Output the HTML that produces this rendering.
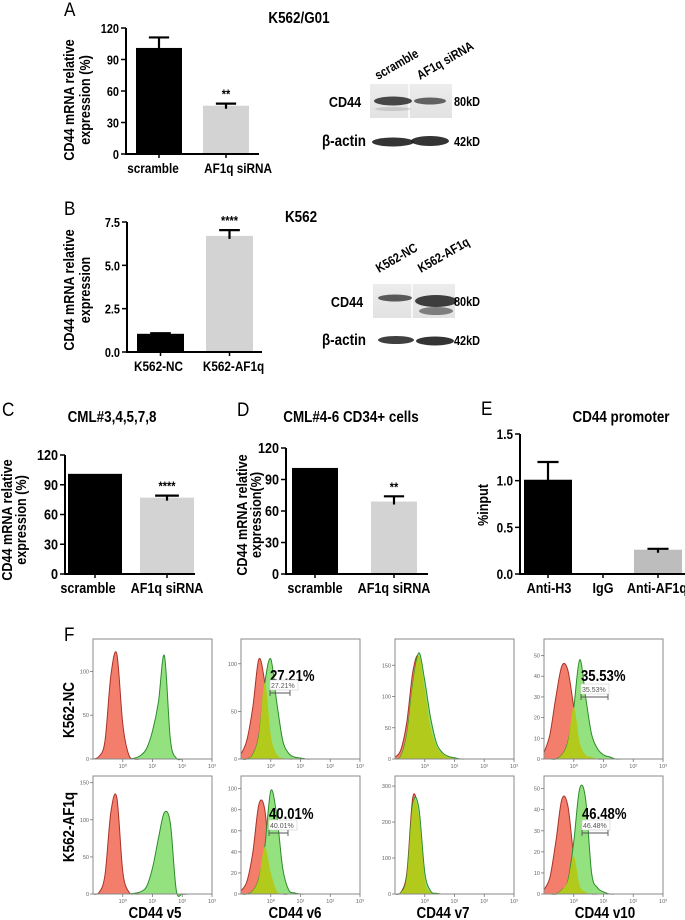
<!DOCTYPE html>
<html><head><meta charset="utf-8">
<style>
html,body{margin:0;padding:0;background:#fff;}
svg{display:block;font-family:"Liberation Sans",Arial,sans-serif;}
</style></head>
<body>
<svg id="fig" width="685" height="920" viewBox="0 0 685 920" xmlns="http://www.w3.org/2000/svg">
<defs>
<linearGradient id="blotbg" x1="0" x2="0" y1="0" y2="1">
<stop offset="0" stop-color="#ececec"/><stop offset="1" stop-color="#e2e2e2"/></linearGradient>
</defs>
<g id="root"></g>
</svg>
<script>
// ---------- bar chart data ----------
const aCats=["scramble","AF1q siRNA"];
const aVals=[101,46];
const aErrs=[10,2];
const aTicks=[0,30,60,90,120];
const bCats=["K562-NC","K562-AF1q"];
const bVals=[1.05,6.7];
const bErrs=[0.03,0.33];
const bTicks=[0,2.5,5,7.5];
const bTickLabels=["0.0","2.5","5.0","7.5"];
const cCats=["scramble","AF1q siRNA"];
const cVals=[101,77];
const cErrs=[0,2];
const cTicks=[0,30,60,90,120];
const dCats=["scramble","AF1q siRNA"];
const dVals=[101,69];
const dErrs=[0,5];
const dTicks=[0,30,60,90,120];
const eCats=["Anti-H3","IgG","Anti-AF1q"];
const eVals=[1.01,0,0.26];
const eErrs=[0.19,0,0.01];
const eTicks=[0,0.5,1,1.5];
const eTickLabels=["0.0","0.5","1.0","1.5"];
// ---------- flow histogram data (log10 bins from -1 to 3 step 0.2) ----------
const histBins=[-1,-0.8,-0.6,-0.4,-0.2,0,0.2,0.4,0.6,0.8,1,1.2,1.4,1.6,1.8,2,2.2,2.4,2.6,2.8,3];
const v5NCred=[0,3,20,95,120,40,5,0,0,0,0,0,0,0,0,0,0,0,0,0,0];
const v5NCgreen=[0,0,0,0,0,0,0,1,4,12,32,65,118,22,1,0,0,0,0,0,0];
const v5AFred=[0,2,25,110,130,30,3,0,0,0,0,0,0,0,0,0,0,0,0,0,0];
const v5AFgreen=[0,0,0,0,0,0,0,1,3,10,35,75,110,95,5,0,0,0,0,0,0];
const v6NCred=[5,20,55,105,80,25,5,1,0,0,0,0,0,0,0,0,0,0,0,0,0];
const v6NCgreen=[0,0,5,25,80,105,60,20,6,2,1,0,0,0,0,0,0,0,0,0,0];
const v6AFred=[3,12,40,85,80,20,3,0,0,0,0,0,0,0,0,0,0,0,0,0,0];
const v6AFgreen=[0,0,3,15,45,98,75,25,4,1,0,0,0,0,0,0,0,0,0,0,0];
const v7NCred=[3,15,60,140,165,110,50,20,8,3,1,0,0,0,0,0,0,0,0,0,0];
const v7NCgreen=[0,5,40,120,170,125,65,25,10,4,2,0,0,0,0,0,0,0,0,0,0];
const v7AFred=[0,5,60,270,220,40,5,1,0,0,0,0,0,0,0,0,0,0,0,0,0];
const v7AFgreen=[0,4,50,250,240,60,8,2,0,0,0,0,0,0,0,0,0,0,0,0,0];
const v10NCred=[3,12,30,45,43,25,8,2,1,0,0,0,0,0,0,0,0,0,0,0,0];
const v10NCgreen=[0,0,0,2,8,25,48,30,12,5,2,1,0,0,0,0,0,0,0,0,0];
const v10AFred=[2,8,25,45,42,18,4,1,0,0,0,0,0,0,0,0,0,0,0,0,0];
const v10AFgreen=[0,0,0,2,6,25,50,45,10,3,1,0,0,0,0,0,0,0,0,0,0];
const pctLabels=["27.21%","40.01%","35.53%","46.48%"];

const NS="http://www.w3.org/2000/svg";
const root=document.getElementById('root');
function mk(tag,attrs,parent,text){const e=document.createElementNS(NS,tag);for(const k in attrs)e.setAttribute(k,attrs[k]);if(text!==undefined)e.textContent=text;(parent||root).appendChild(e);return e;}
function txt(x,y,s,size,opts,parent){opts=opts||{};
  const sx=opts.sx!==undefined?opts.sx:((opts.weight||'bold')==='bold'?0.84:1);
  const a={x:0,y:0,'font-size':size,'text-anchor':opts.anchor||'middle','font-weight':opts.weight||'bold',fill:opts.fill||'#000'};
  a.transform='translate('+x+' '+y+')'+(opts.rot!==undefined?' rotate('+opts.rot+')':'')+' scale('+sx+' 1)';
  return mk('text',a,parent,s);}

function barChart(name,o){
  const g=mk('g',{});
  
  
  const ys=v=>o.y0-(v/o.max)*(o.y0-o.yTop);
  o.cats.forEach((c,i)=>{
    const bx=o.ax+o.pad+i*o.step;
    const top=ys(o.vals[i]);
    if(o.vals[i]>0){
      const r=mk('rect',{x:bx,y:top,width:o.bw,height:o.y0-top,fill:o.colors[i]},g);
      
      
      if(o.errs[i]>0){
        const et=ys(o.vals[i]+o.errs[i]);const cx=bx+o.bw/2;const cw=o.bw*0.22;
        const e=mk('path',{d:'M'+cx+' '+(top+3)+'V'+et+'M'+(cx-cw)+' '+et+'H'+(cx+cw),stroke:'#000','stroke-width':2.2,fill:'none'},g);
        
        
      }
    }
    const cx=bx+o.bw/2;
    mk('line',{x1:cx,x2:cx,y1:o.y0,y2:o.y0+4,stroke:'#000','stroke-width':1.5},g);
    const l=txt(cx+(o.labShift?o.labShift[i]:0),o.y0+19,c,o.catSize||14,{},g);
    
    
    if(o.stars&&o.stars[i]){const s=txt(cx,ys(o.vals[i]+o.errs[i])-5,o.stars[i],13,{},g);
      
      }
  });
  mk('path',{d:'M'+o.ax+' '+o.yTop+'V'+o.y0+'H'+o.axEnd,stroke:'#000','stroke-width':2,fill:'none'},g);
  o.ticks.forEach((t,i)=>{const y=ys(t);
    mk('line',{x1:o.ax-5,x2:o.ax,y1:y,y2:y,stroke:'#000','stroke-width':1.5},g);
    const tl=txt(o.ax-7,y+5,o.tickLabels?o.tickLabels[i]:String(t),o.tickSize||13,{anchor:'end'},g);
    
    });
  o.ylab.forEach((s,i)=>{const t=txt(o.ylx[i],o.yly,s,o.ylSize||15,{rot:-90},g);
    
    });
  return g;
}

[["A",64,16],["B",64,215],["C",2,416],["D",237,416],["E",481,415],["F",64,641]].forEach(p=>{
  const t=txt(p[1],p[2],p[0],19,{anchor:'start',weight:'normal',sx:0.9});
  
  
});
[["K562/G01",299,23],["K562",301,222],["CML#3,4,5,7,8",112,422],["CML#4-6 CD34+ cells",351,422],["CD44 promoter",621,422]].forEach(p=>{
  const t=txt(p[1],p[2],p[0],16);
  
  
});

barChart('bar-chart-a',{cats:aCats,vals:aVals,errs:aErrs,ticks:aTicks,max:120,ax:126,axEnd:259,yTop:28,y0:154,pad:10,step:67,bw:46,colors:['#000','#d3d3d3'],stars:['','**'],labShift:[-6,12],ylab:['CD44 mRNA relative','expression (%)'],ylx:[74,90],yly:100});
barChart('bar-chart-b',{cats:bCats,vals:bVals,errs:bErrs,ticks:bTicks,tickLabels:bTickLabels,max:7.5,ax:127,axEnd:262,yTop:222,y0:352,pad:10,step:69,bw:47,colors:['#000','#d3d3d3'],stars:['','****'],labShift:[-2,4],ylab:['CD44 mRNA relative','expression'],ylx:[74,90],yly:290});
barChart('bar-chart-c',{cats:cCats,vals:cVals,errs:cErrs,ticks:cTicks,max:120,ax:65,axEnd:195,yTop:455,y0:574,pad:3,step:72,bw:54,colors:['#000','#d3d3d3'],stars:['','****'],labShift:[-7,0],ylab:['CD44 mRNA relative','expression (%)'],ylx:[12,26],yly:520,tickSize:15,catSize:15,ylSize:15});
barChart('bar-chart-d',{cats:dCats,vals:dVals,errs:dErrs,ticks:dTicks,max:120,ax:286,axEnd:428,yTop:448,y0:574,pad:6,step:79,bw:46,colors:['#000','#d3d3d3'],stars:['','**'],ylab:['CD44 mRNA relative','expression(%)'],ylx:[247,261],yly:515,tickSize:15,catSize:15,ylSize:15});
barChart('bar-chart-e',{cats:eCats,vals:eVals,errs:eErrs,ticks:eTicks,tickLabels:eTickLabels,max:1.5,ax:520,axEnd:685,yTop:434,y0:574,pad:4,step:55,bw:48,colors:['#000','#000','#bdbdbd'],stars:['','',''],labShift:[1,0,-1],ylab:['%input'],ylx:[488],yly:505,catSize:15,tickSize:14});

function blot(name,x,y,lanes,bandsTop,bandsBot){
  const g=mk('g',{});
  
  
  mk('rect',{x:x,y:y,width:82,height:34,fill:'url(#blotbg)'},g);
  mk('rect',{x:x+38,y:y,width:2,height:34,fill:'#f8f8f8'},g);
  bandsTop.forEach(b=>mk('ellipse',{cx:b[0],cy:b[1],rx:b[2],ry:b[3],fill:'#2a2a2a',opacity:b[4]},g));
  bandsBot.forEach(b=>mk('ellipse',{cx:b[0],cy:b[1],rx:b[2],ry:b[3],fill:'#1e1e1e',opacity:b[4]},g));
  lanes.forEach(l=>{const t=txt(l[0],l[1],l[2],13,{anchor:'start',rot:-30},g);
    
    });
  return g;
}
blot('western-blot-a',370,84,[[378,80,'scramble'],[420,80,'AF1q siRNA']],
  [[393,101,19,4.5,0.85],[430,101,16,3.5,0.7],[393,109,18,2,0.15]],
  [[393,142,21,4.5,0.9],[430,141,19,5,0.9]]);
blot('western-blot-b',373,284,[[379,273,'K562-NC'],[421,273,'K562-AF1q']],
  [[395,298,17,3.5,0.75],[436,301,21,6,0.9],[436,311,17,4,0.55]],
  [[396,340,18,4,0.85],[435,341,19,4.5,0.9]]);
[["CD44",345,107,15],["80kD",467,106,13],["42kD",467,146,13],["CD44",347,307,15],["80kD",467,306,13],["42kD",467,345,13]].forEach(p=>{
  const t=txt(p[1],p[2],p[0],p[3]);
  
  
});
[[344,146],[344,345]].forEach(p=>{
  const t=txt(p[0],p[1],'β-actin',16);
  
  
});

function smoothPath(pts){
  let d='M'+pts[0][0]+' '+pts[0][1];
  for(let i=0;i<pts.length-1;i++){
    const p0=pts[Math.max(0,i-1)],p1=pts[i],p2=pts[i+1],p3=pts[Math.min(pts.length-1,i+2)];
    const c1=[p1[0]+(p2[0]-p0[0])/6,p1[1]+(p2[1]-p0[1])/6];
    const c2=[p2[0]-(p3[0]-p1[0])/6,p2[1]-(p3[1]-p1[1])/6];
    d+='C'+c1[0].toFixed(1)+' '+c1[1].toFixed(1)+' '+c2[0].toFixed(1)+' '+c2[1].toFixed(1)+' '+p2[0].toFixed(1)+' '+p2[1].toFixed(1);
  }
  return d;
}
function hist(name,x,y,w,h,ymax,yticks,red,green,ann){
  const g=mk('g',{});
  
  
  const xs=v=>x+(v+1)/4*w;
  const ys=v=>y+h-Math.min(v,ymax)/ymax*h;
  const y0=y+h;
  function area(arr,fill,stroke,nm){
    const pts=histBins.map((b,i)=>[xs(b),ys(arr[i])]);
    let d=smoothPath(pts);
    const p=mk('path',{d:d+'L'+xs(3)+' '+y0+'L'+xs(-1)+' '+y0+'Z',fill:fill,stroke:'none'},g);
    
    
    if(stroke){const s=mk('path',{d:d,fill:'none',stroke:stroke,'stroke-width':1},g);
      
      }
  }
  mk('rect',{x:x,y:y,width:w,height:h,fill:'#fff'},g);
  area(red,'#f47e6c','#a8322a','isotype-histogram');
  area(green,'#93e27f','#2d8a2d','cd44-histogram');
  const ov=red.map((v,i)=>Math.min(v,green[i]));
  area(ov,'#b2ca1c',null,'overlap-histogram');
  mk('rect',{x:x,y:y,width:w,height:h,fill:'none',stroke:'#888','stroke-width':1},g);
  [0,1,2,3].forEach(d=>{
    mk('line',{x1:xs(d),x2:xs(d),y1:y0,y2:y0+3,stroke:'#777','stroke-width':0.8},g);
    const t=txt(xs(d),y0+9,'10'+['⁰','¹','²','³'][d],5.5,{weight:'normal',fill:'#666'},g);
    
    
  });
  yticks.forEach(t=>{const yy=ys(t);
    mk('line',{x1:x-3,x2:x,y1:yy,y2:yy,stroke:'#777','stroke-width':0.8},g);
    const l=txt(x-4,yy+2,String(t),5.5,{anchor:'end',weight:'normal',fill:'#666'},g);
    
    });
  if(ann){
    const a=txt(ann.x,ann.y,ann.s,16,{anchor:'start',sx:0.82},g);
    
    
    mk('rect',{x:ann.x,y:ann.gy-13,width:28,height:10,fill:'#fff',stroke:'#ccc','stroke-width':0.6},g);
    txt(ann.x+1,ann.gy-5,ann.s,7,{anchor:'start',weight:'normal',fill:'#555'},g);
    mk('path',{d:'M'+ann.x+' '+(ann.gy-3)+'v6M'+ann.x+' '+ann.gy+'H'+(ann.x+ann.gw)+'M'+(ann.x+ann.gw)+' '+(ann.gy-3)+'v6',stroke:'#555','stroke-width':0.9,fill:'none'},g);
  }
}
const cols=[93,241,395,544], cw=119, rows=[639,776], rh=[120,118];
hist('histogram-v5-nc',cols[0],rows[0],cw,rh[0],137,[0,50,100],v5NCred,v5NCgreen,null);
hist('histogram-v5-af1q',cols[0],rows[1],cw,rh[1],159,[0,50,100,150],v5AFred,v5AFgreen,null);
hist('histogram-v6-nc',cols[1],rows[0],cw,rh[0],126,[0,50,100],v6NCred,v6NCgreen,{x:270,y:681,s:pctLabels[0],gy:693,gw:20});
hist('histogram-v6-af1q',cols[1],rows[1],cw,rh[1],112,[0,20,40,60,80,100],v6AFred,v6AFgreen,{x:269,y:819,s:pctLabels[1],gy:833,gw:19});
hist('histogram-v7-nc',cols[2],rows[0],cw,rh[0],192,[0,50,100,150],v7NCred,v7NCgreen,null);
hist('histogram-v7-af1q',cols[2],rows[1],cw,rh[1],328,[0,100,200,300],v7AFred,v7AFgreen,null);
hist('histogram-v10-nc',cols[3],rows[0],cw,rh[0],58,[0,10,20,30,40,50],v10NCred,v10NCgreen,{x:581,y:681,s:pctLabels[2],gy:697,gw:27});
hist('histogram-v10-af1q',cols[3],rows[1],cw,rh[1],56,[0,10,20,30,40,50],v10AFred,v10AFgreen,{x:582,y:819,s:pctLabels[3],gy:833,gw:26});
[["CD44 v5",155],["CD44 v6",295],["CD44 v7",443],["CD44 v10",605]].forEach(p=>{
  const t=txt(p[1],918,p[0],16);
  
  
});
[["K562-NC",710],["K562-AF1q",827]].forEach(p=>{
  const t=txt(74,p[1],p[0],16,{rot:-90});
  
  
});
</script>
</body></html>
